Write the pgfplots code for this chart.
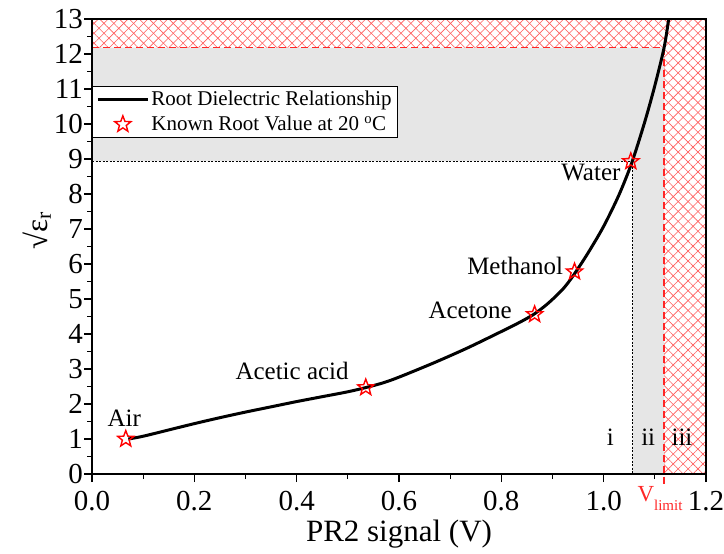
\documentclass[border=0pt]{standalone}
\usepackage{fontspec}
\setmainfont{Liberation Serif}
\usepackage{pgfplots}
\pgfplotsset{compat=1.18}
\usepackage{pgfplotstable}
\usetikzlibrary{patterns.meta}

\pgfdeclareplotmark{ostar}{%
  \pgfpathmoveto{\pgfpointpolar{90}{\pgfplotmarksize}}%
  \pgfpathlineto{\pgfpointpolar{126}{0.42\pgfplotmarksize}}%
  \pgfpathlineto{\pgfpointpolar{162}{\pgfplotmarksize}}%
  \pgfpathlineto{\pgfpointpolar{198}{0.42\pgfplotmarksize}}%
  \pgfpathlineto{\pgfpointpolar{234}{\pgfplotmarksize}}%
  \pgfpathlineto{\pgfpointpolar{270}{0.42\pgfplotmarksize}}%
  \pgfpathlineto{\pgfpointpolar{306}{\pgfplotmarksize}}%
  \pgfpathlineto{\pgfpointpolar{342}{0.42\pgfplotmarksize}}%
  \pgfpathlineto{\pgfpointpolar{18}{\pgfplotmarksize}}%
  \pgfpathlineto{\pgfpointpolar{54}{0.42\pgfplotmarksize}}%
  \pgfpathclose
  \pgfusepathqstroke
}

\pgfplotsset{
  curveleg/.style={legend image code/.code={\draw[##1] (0pt,0pt) -- (50pt,0pt);}},
  starleg/.style={legend image code/.code={\draw[mark repeat=2,mark phase=2,##1] plot coordinates {(0pt,0pt)(25pt,0pt)(50pt,0pt)};}},
}

\definecolor{shade}{RGB}{230,230,230}
\definecolor{hatchred}{RGB}{255,90,90}

\pgfplotstableread{
x y
0.071 1.00
0.100 1.08
0.150 1.26
0.200 1.44
0.250 1.61
0.300 1.77
0.350 1.92
0.400 2.07
0.450 2.21
0.500 2.35
0.535 2.47
0.570 2.61
0.602 2.78
0.667 3.17
0.732 3.59
0.797 4.05
0.830 4.29
0.862 4.55
0.890 4.86
0.920 5.28
0.941 5.68
0.970 6.33
1.000 7.08
1.030 7.98
1.055 8.90
1.080 10.05
1.100 11.10
1.118 12.18
1.127 13.00
}\curvedata

\pgfplotstableread{
x y
0.066 1.00
0.535 2.47
0.865 4.56
0.943 5.78
1.053 8.93
}\stardata

\begin{document}
\begin{tikzpicture}
\begin{axis}[
  width=614pt, height=455pt, scale only axis,
  xmin=0, xmax=1.2, ymin=0, ymax=13,
  xtick={0,0.2,0.4,0.6,0.8,1.0,1.2},
  ytick={0,1,2,3,4,5,6,7,8,9,10,11,12,13},
  minor x tick num=1, minor y tick num=1,
  tick align=outside, xtick pos=bottom, ytick pos=left,
  major tick length=8pt, minor tick length=5pt,
  every tick/.style={black, line width=1.2pt},
  axis line style={line width=1.5pt},
  axis on top, clip=false,
  /pgf/number format/assume math mode=true,
  xticklabel style={yshift=-6pt, /pgf/number format/fixed, /pgf/number format/fixed zerofill, /pgf/number format/precision=1},
  ticklabel style={font=\fontsize{29}{32}\selectfont},
  yticklabel style={inner xsep=1pt},
  xlabel={PR2 signal (V)},
  ylabel={√ε\textsubscript{r}},
  label style={font=\fontsize{31}{34}\selectfont},
  xlabel style={at={(axis description cs:0.5,0)}, anchor=base, yshift=-67pt},
  ylabel style={at={(axis description cs:-0.09,0.535)}, anchor=center},
  legend style={at={(axis cs:0,11.09)}, anchor=north west, draw=black, line width=0.7pt,
    fill=white, font=\fontsize{21}{24}\selectfont, inner xsep=4pt, inner ysep=3pt,
    row sep=5pt},
  legend cell align=left,
]
% gray regions
\addplot[draw=none, fill=shade, forget plot] coordinates {
  (0,8.94) (1.056,8.94) (1.056,0) (1.118,0) (1.118,12.18) (0,12.18)} -- cycle;
% hatched regions
\addplot[draw=none, pattern={Lines[angle=45,distance=7pt,line width=0.6pt]}, pattern color=hatchred, forget plot] coordinates {
  (0,12.18) (1.118,12.18) (1.118,0) (1.2,0) (1.2,13) (0,13)} -- cycle;
\addplot[draw=none, pattern={Lines[angle=-45,distance=7pt,line width=0.6pt]}, pattern color=hatchred, forget plot] coordinates {
  (0,12.18) (1.118,12.18) (1.118,0) (1.2,0) (1.2,13) (0,13)} -- cycle;
% dotted guides
\addplot[black, line width=0.8pt, dash pattern=on 2pt off 1.5pt, forget plot] coordinates {
  (0,8.94) (1.056,8.94) (1.056,0)};
% red dashed limit
\addplot[red!85!white, line width=1.5pt, dash pattern=on 7pt off 4pt, forget plot] coordinates {
  (0,12.18) (1.118,12.18) (1.118,-0.38)};
% curve
\addplot[black, line width=3pt, smooth, tension=0.5, curveleg] table[x=x,y=y] {\curvedata};
\addlegendentry{Root Dielectric Relationship}
\addplot[only marks, mark=ostar, mark size=8.5pt, red, line width=1.4pt, starleg] table[x=x,y=y] {\stardata};
\addlegendentry{Known Root Value at 20 \textsuperscript{o}C}
% annotations
\begin{scope}[every node/.style={font=\fontsize{25}{28}\selectfont, inner sep=0pt, anchor=base}]
\node at (axis cs:0.063,1.35) {Air};
\node at (axis cs:0.391,2.69) {Acetic acid};
\node at (axis cs:0.739,4.45) {Acetone};
\node at (axis cs:0.827,5.69) {Methanol};
\node at (axis cs:0.975,8.40) {Water};
\node at (axis cs:1.013,0.81) {i};
\node at (axis cs:1.087,0.81) {ii};
\node at (axis cs:1.153,0.81) {iii};
\node[text=red!85!white, font=\fontsize{23}{26}\selectfont] at (axis cs:1.110,-0.79) {V\raisebox{-9pt}{\fontsize{15}{17}\selectfont limit}};
\end{scope}
\coordinate (bbsw) at (axis cs:-0.1798,-2.257);
\coordinate (bbne) at (axis cs:1.2351,13.543);
\end{axis}
\pgfresetboundingbox
\path[use as bounding box] (bbsw) rectangle (bbne);
\end{tikzpicture}
\end{document}
